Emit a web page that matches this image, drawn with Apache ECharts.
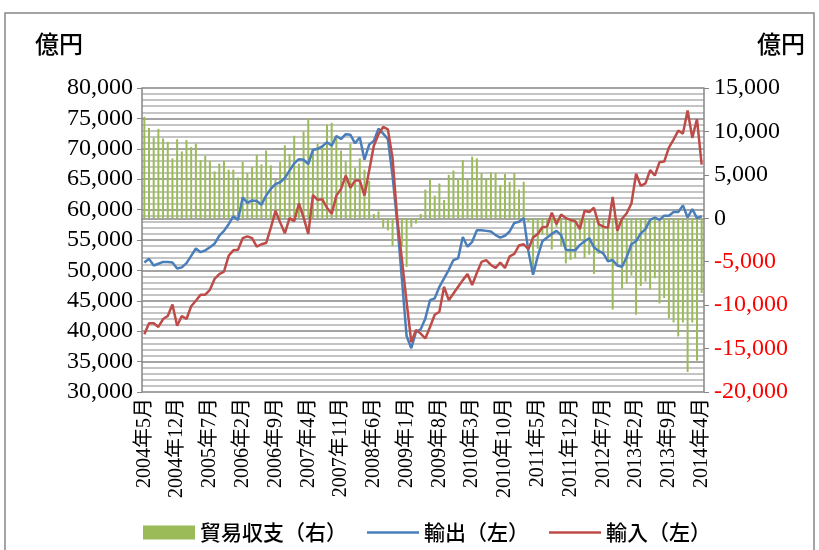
<!DOCTYPE html>
<html>
<head>
<meta charset="utf-8">
<script src="https://cdn.jsdelivr.net/npm/echarts@6/dist/echarts.min.js"></script>
<style>
  html, body { margin: 0; padding: 0; background: #fff; }
  #chart { width: 819px; height: 550px; }
</style>
</head>
<body>
<div id="chart"></div>
<script>
// 2004年5月 〜 2014年4月 (月次, 億円)
const startYear = 2004
const startMonth = 5
const monthCount = 120

// 輸出(左)
const exportsData = [
  51300, 51900, 50800, 51100, 51400, 51400, 51300, 50300, 50500, 51200,
  52400, 53600, 53000, 53300, 53800, 54400, 55700, 56500, 57600, 58900,
  58300, 62000, 61100, 61500, 61400, 60800, 62300, 63400, 64200, 64500,
  65200, 66400, 67600, 68300, 68200, 67500, 69800, 70000, 70400, 71100,
  70500, 72100, 71600, 72400, 72300, 70900, 71900, 68200, 70700, 71300,
  73300, 72500, 71600, 65500, 57800, 48500, 39200, 37200, 39900, 40300,
  42100, 45100, 45400, 47300, 48700, 50100, 51700, 52000, 55500, 53900,
  54700, 56600, 56600, 56500, 56400, 55800, 55400, 55700, 56400, 57800,
  58000, 58600, 53200, 49300, 52300, 54800, 55400, 56000, 56500, 55800,
  53400, 53300, 53300, 54200, 54800, 55300, 53800, 53200, 52800, 51500,
  51700, 50800, 50600, 52200, 54300, 54800, 56100, 56800, 58300, 58700,
  58300, 59000, 59000, 59600, 59600, 60700, 58700, 60100, 58600, 58900
]

// 輸入(左)
const importsData = [
  39500, 41300, 41300, 40700, 42000, 42500, 44400, 40900, 42500, 42000,
  44100, 45000, 46000, 46000, 46800, 48600, 49400, 49800, 52400, 53300,
  53400, 55300, 55600, 55300, 53900, 54300, 54500, 57000, 59800, 57900,
  56100, 58600, 58100, 61000, 58700, 56000, 62400, 61600, 61700, 60300,
  59300, 62300, 63400, 65600, 63600, 64800, 64800, 62300, 66400, 70500,
  72400, 73600, 73200, 68500, 58500, 51800, 44800, 38200, 40200, 39600,
  38800, 40700, 42700, 43200, 47300, 45100, 46200, 47300, 48400, 49400,
  47600, 49600, 51400, 51700, 50900, 50400, 51300, 50400, 52300, 52700,
  54100, 54300, 53500, 55400, 56000, 57100, 57200, 59500, 57600, 59200,
  58600, 58300, 58100, 56800, 59800, 59600, 60300, 57600, 57200, 57000,
  62100, 56500, 58500, 59400, 61000, 65900, 63900, 64300, 66500, 65600,
  67800, 67900, 70200, 71500, 73000, 72500, 76300, 71800, 74900, 67400
]

// 貿易収支(右)
const balanceData = [
  11700, 10400, 9300, 10300, 9200, 8800, 6900, 9100, 7700, 9000,
  8200, 8600, 6700, 7200, 6600, 5400, 6300, 6600, 5600, 5600,
  4700, 6500, 5200, 5900, 7300, 6200, 7800, 6100, 4400, 6500,
  8400, 7400, 9500, 6300, 10000, 11500, 7800, 8600, 8400, 10800,
  11000, 9200, 7800, 6600, 8600, 5800, 6900, 5600, 4300, 500,
  800, -1100, -1400, -3200, -700, -3300, -5600, -1000, -600, 500,
  3300, 4500, 2600, 4000, 2100, 5000, 5500, 4500, 6700, 4500,
  7100, 6900, 5200, 4500, 5300, 5200, 3800, 5100, 4200, 5200,
  3300, 4200, -400, -6000, -3500, -1900, -2000, -3600, -1000, -3200,
  -5200, -4800, -4600, -2600, -4600, -4200, -6400, -4100, -4200, -5000,
  -10500, -5500, -8100, -7500, -6600, -11100, -7800, -7300, -8200, -6900,
  -9800, -9200, -11500, -12000, -13600, -12000, -17700, -12000, -16400, -8600
]

const categories = []
for (let i = 0; i < monthCount; i++) {
  const m = startMonth - 1 + i
  categories.push(startYear + Math.floor(m / 12) + '年' + ((m % 12) + 1) + '月')
}

const serifFont = '"Liberation Serif", "Noto Sans CJK JP", serif'
const cjkFont = '"Noto Sans CJK JP", sans-serif'
const gridGrey = '#868686'
const lineIcon = 'path://M0,0L60,0L60,3L0,3Z'

const myChart = echarts.init(document.getElementById('chart'))
const option = {
  animation: false,
  graphic: [
    {
      type: 'rect',
      shape: { x: 5, y: 13, width: 809, height: 560 },
      style: { fill: 'none', stroke: gridGrey, lineWidth: 1.5 },
      silent: true,
    },
    {
      type: 'text',
      left: 35,
      top: 32,
      style: { text: '億円', font: '500 24px "Noto Sans CJK JP"', fill: '#000' },
    },
    {
      type: 'text',
      left: 757,
      top: 32,
      style: { text: '億円', font: '500 24px "Noto Sans CJK JP"', fill: '#000' },
    },
  ],
  legend: {
    left: 143,
    top: 522,
    padding: 0,
    itemWidth: 52,
    itemHeight: 14,
    itemGap: 20,
    textStyle: { fontFamily: cjkFont, fontSize: 21, fontWeight: 500, color: '#000' },
    data: [
      { name: '貿易収支（右）', icon: 'rect' },
      { name: '輸出（左）', icon: lineIcon },
      { name: '輸入（左）', icon: lineIcon },
    ],
  },
  grid: {
    left: 142,
    right: 115,
    top: 88,
    bottom: 158,
  },
  xAxis: {
    type: 'category',
    data: categories,
    boundaryGap: true,
    axisLine: { lineStyle: { color: gridGrey, width: 1.5 } },
    axisTick: { show: false },
    axisLabel: {
      interval: 6,
      rotate: 90,
      margin: 6,
      color: '#000',
      fontFamily: serifFont,
      fontSize: 20,
    },
  },
  yAxis: [
    {
      type: 'value',
      min: 30000,
      max: 80000,
      interval: 5000,
      axisLine: { show: true, lineStyle: { color: gridGrey, width: 1.5 } },
      axisTick: { show: true, length: 5, lineStyle: { color: gridGrey } },
      axisLabel: {
        margin: 9,
        color: '#000',
        fontFamily: serifFont,
        fontSize: 24,
        formatter: (v) => v.toLocaleString('en-US'),
      },
      splitLine: { show: true, lineStyle: { color: gridGrey, width: 1.5 } },
      minorTick: { show: false, splitNumber: 5 },
      minorSplitLine: { show: true, lineStyle: { color: '#c4c4c4', width: 2 } },
    },
    {
      type: 'value',
      min: -20000,
      max: 15000,
      interval: 5000,
      axisLine: { show: true, lineStyle: { color: gridGrey, width: 1.5 } },
      axisTick: { show: true, length: 5, lineStyle: { color: gridGrey } },
      axisLabel: {
        margin: 10,
        fontFamily: serifFont,
        fontSize: 24,
        color: (v) => (Number(v) < 0 ? '#ff0000' : '#000'),
        formatter: (v) => v.toLocaleString('en-US'),
      },
      splitLine: { show: false },
    },
  ],
  series: [
    {
      name: '貿易収支（右）',
      type: 'bar',
      yAxisIndex: 1,
      barWidth: 2,
      itemStyle: { color: '#9bbb59' },
      z: 1,
      data: balanceData,
    },
    {
      name: '輸出（左）',
      type: 'line',
      yAxisIndex: 0,
      symbol: 'none',
      lineStyle: { color: '#4a7ebb', width: 2.5 },
      itemStyle: { color: '#4a7ebb' },
      z: 3,
      data: exportsData,
    },
    {
      name: '輸入（左）',
      type: 'line',
      yAxisIndex: 0,
      symbol: 'none',
      lineStyle: { color: '#be4b48', width: 2.5 },
      itemStyle: { color: '#be4b48' },
      z: 4,
      data: importsData,
    },
  ],
}
myChart.setOption(option)
</script>
</body>
</html>
